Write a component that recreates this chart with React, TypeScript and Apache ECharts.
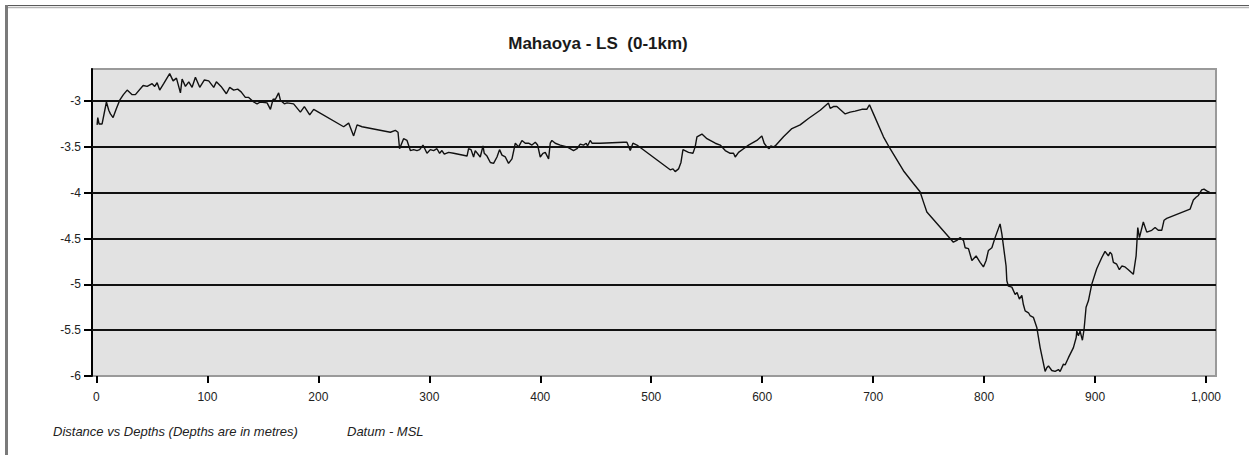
import React, { useEffect, useRef } from "react";
import * as echarts from "echarts";

// Longitudinal section profile: chainage (m) vs bed level (m, MSL)
const distances = [
  0.6, 1.2, 2.4, 5.1, 9.0, 11.1, 12.6, 15.0, 18.0, 21.0, 24.3, 27.7, 32.2, 35.1, 42.1, 45.7, 50.2, 52.5, 54.7, 57.0,
  60.6, 66.0, 69.1, 72.1, 75.7, 77.2, 80.2, 83.2, 86.2, 89.2, 93.1, 97.3, 101.2, 105.7, 108.1, 112.3, 117.1, 120.1, 123.7, 127.3,
  130.4, 134.2, 137.2, 141.7, 144.8, 147.7, 153.8, 156.8, 159.2, 161.3, 164.2, 165.8, 169.4, 171.8, 177.7, 183.8, 187.4, 192.2, 195.8, 222.8,
  227.3, 231.8, 234.9, 239.4, 264.9, 269.4, 271.8, 273.2, 276.8, 279.9, 282.9, 285.9, 288.9, 291.3, 294.3, 297.9, 300.9, 303.9, 306.9, 309.3,
  311.4, 313.5, 317.4, 321.9, 334.0, 335.4, 337.6, 339.9, 341.4, 345.9, 348.4, 349.5, 352.0, 355.0, 357.9, 361.0, 363.3, 365.5, 368.5, 371.4,
  374.5, 377.5, 380.5, 383.5, 386.5, 389.5, 392.5, 395.5, 397.6, 400.0, 402.4, 404.5, 407.5, 409.0, 410.5, 413.5, 418.0, 424.1, 430.0, 433.1,
  436.0, 439.0, 441.4, 442.6, 445.0, 446.6, 454.1, 475.1, 478.1, 481.1, 483.5, 487.1, 517.1, 519.6, 521.6, 524.6, 526.8, 528.6, 533.6, 537.6,
  539.6, 541.2, 545.7, 550.2, 557.7, 562.2, 566.7, 571.2, 574.2, 575.7, 578.7, 583.2, 587.7, 595.2, 599.7, 601.8, 604.2, 606.3, 607.8, 610.2,
  611.7, 619.2, 626.8, 634.2, 641.7, 652.3, 659.7, 661.3, 664.2, 667.3, 674.8, 679.3, 683.8, 689.8, 694.3, 696.7, 700.3, 709.3, 715.3, 727.3,
  736.3, 742.3, 745.3, 748.4, 772.3, 775.4, 778.4, 781.4, 782.9, 785.9, 789.0, 792.8, 796.4, 799.4, 801.8, 803.9, 807.0, 809.9, 814.4, 816.0,
  819.8, 820.5, 821.9, 825.0, 828.0, 829.7, 831.8, 834.0, 835.4, 837.0, 840.0, 841.4, 844.4, 847.5, 850.5, 855.0, 856.5, 858.0, 861.0, 864.0,
  867.0, 868.5, 871.5, 873.0, 876.0, 880.5, 883.0, 883.5, 885.0, 886.5, 888.6, 890.1, 891.9, 894.0, 897.0, 901.5, 906.0, 909.0, 912.0, 913.5,
  915.0, 916.5, 919.5, 921.9, 924.1, 927.0, 930.0, 934.5, 937.0, 938.5, 940.0, 943.5, 946.6, 951.1, 954.1, 957.0, 960.1, 962.2, 964.6, 985.6,
  988.6, 991.0, 993.1, 996.1, 998.2, 1000.6, 1003.6,
];

const depths = [
  -3.26, -3.18, -3.25, -3.25, -3.01, -3.1, -3.14, -3.18, -3.08, -2.99, -2.93, -2.88, -2.93, -2.93, -2.83, -2.84, -2.81, -2.84, -2.8, -2.88,
  -2.81, -2.7, -2.78, -2.75, -2.91, -2.76, -2.84, -2.79, -2.85, -2.74, -2.85, -2.77, -2.78, -2.85, -2.79, -2.84, -2.92, -2.85, -2.88, -2.87,
  -2.9, -2.96, -2.96, -3.01, -3.03, -3.01, -3.02, -3.09, -2.98, -2.98, -2.91, -2.99, -3.03, -3.02, -3.03, -3.12, -3.06, -3.15, -3.09, -3.28,
  -3.24, -3.38, -3.26, -3.28, -3.34, -3.32, -3.34, -3.52, -3.41, -3.43, -3.54, -3.53, -3.54, -3.53, -3.48, -3.57, -3.53, -3.54, -3.52, -3.57,
  -3.54, -3.58, -3.56, -3.57, -3.6, -3.52, -3.53, -3.61, -3.54, -3.61, -3.49, -3.57, -3.6, -3.67, -3.68, -3.61, -3.53, -3.59, -3.61, -3.68,
  -3.63, -3.46, -3.5, -3.43, -3.46, -3.46, -3.48, -3.45, -3.48, -3.61, -3.57, -3.56, -3.63, -3.46, -3.43, -3.46, -3.48, -3.5, -3.54, -3.52,
  -3.47, -3.48, -3.46, -3.49, -3.43, -3.46, -3.46, -3.45, -3.45, -3.54, -3.46, -3.48, -3.75, -3.74, -3.77, -3.74, -3.67, -3.53, -3.56, -3.57,
  -3.5, -3.39, -3.36, -3.41, -3.46, -3.48, -3.54, -3.57, -3.57, -3.61, -3.56, -3.52, -3.48, -3.43, -3.38, -3.46, -3.5, -3.52, -3.49, -3.5,
  -3.49, -3.39, -3.3, -3.26, -3.19, -3.1, -3.02, -3.08, -3.06, -3.06, -3.14, -3.12, -3.11, -3.09, -3.09, -3.04, -3.14, -3.39, -3.52, -3.76,
  -3.9, -3.99, -4.1, -4.21, -4.54, -4.52, -4.49, -4.52, -4.6, -4.61, -4.74, -4.69, -4.76, -4.81, -4.74, -4.63, -4.6, -4.49, -4.34, -4.45,
  -4.8, -4.96, -5.02, -5.03, -5.11, -5.09, -5.16, -5.12, -5.22, -5.29, -5.31, -5.34, -5.36, -5.47, -5.69, -5.95, -5.91, -5.89, -5.94, -5.95,
  -5.93, -5.95, -5.87, -5.88, -5.8, -5.69, -5.58, -5.51, -5.56, -5.51, -5.61, -5.49, -5.25, -5.18, -5.0, -4.83, -4.71, -4.64, -4.69, -4.65,
  -4.67, -4.76, -4.78, -4.84, -4.8, -4.81, -4.84, -4.89, -4.69, -4.38, -4.49, -4.32, -4.43, -4.41, -4.38, -4.41, -4.41, -4.3, -4.28, -4.18,
  -4.08, -4.05, -4.03, -3.97, -3.96, -3.98, -4.0,
];

const xTicks = [0, 100, 200, 300, 400, 500, 600, 700, 800, 900, 1000];
const yTicks = [-6, -5.5, -5, -4.5, -4, -3.5, -3];
const gridLevels = [-5.5, -5, -4.5, -4, -3.5, -3];

const chartTitle = "Mahaoya - LS  (0-1km)";
const footNote = "Distance vs Depths (Depths are in metres)";
const datumNote = "Datum - MSL";

const FONT = "Arial, 'Liberation Sans', sans-serif";

export default function App() {
  const ref = useRef<HTMLDivElement>(null);

  useEffect(() => {
    if (!ref.current) return;
    const chart = echarts.init(ref.current, undefined, { renderer: "svg" });
    const points = distances.map((d, i) => [d, depths[i]]);

    chart.setOption({
      animation: false,
      backgroundColor: "#ffffff",
      textStyle: { fontFamily: FONT },
      grid: {
        left: 92,
        top: 69,
        right: 33,
        bottom: 79,
        show: true,
        backgroundColor: "#e2e2e2",
        borderColor: "#9a9a9a",
        borderWidth: 2,
      },
      xAxis: {
        type: "value",
        min: -4,
        max: 1009,
        axisLine: {
          show: true,
          onZero: false,
          lineStyle: { color: "#000", width: 3, shadowColor: "#9a9a9a", shadowOffsetY: 2, shadowBlur: 0 },
        },
        axisTick: {
          show: true,
          customValues: xTicks,
          length: 7,
          lineStyle: { color: "#000", width: 2 },
        },
        axisLabel: {
          customValues: xTicks,
          margin: 15,
          fontSize: 12,
          color: "#222",
          fontFamily: FONT,
          formatter: (v: number) => v.toLocaleString("en-US"),
        },
        splitLine: { show: false },
      },
      yAxis: {
        type: "value",
        min: -6,
        max: -2.65,
        axisLine: { show: true, onZero: false, lineStyle: { color: "#000", width: 2 } },
        axisTick: {
          show: true,
          customValues: yTicks,
          length: 8,
          lineStyle: { color: "#000", width: 2 },
        },
        axisLabel: {
          customValues: yTicks,
          margin: 11,
          fontSize: 12,
          color: "#222",
          fontFamily: FONT,
          formatter: (v: number) => String(v),
        },
        splitLine: { show: false },
      },
      series: [
        {
          type: "line",
          data: points,
          showSymbol: false,
          symbol: "none",
          lineStyle: { color: "#111", width: 1.4 },
          z: 3,
          markLine: {
            silent: true,
            symbol: "none",
            label: { show: false },
            lineStyle: { color: "#111", width: 2, type: "solid" },
            data: gridLevels.map((v) => ({ yAxis: v })),
            z: 2,
          },
        },
      ],
      graphic: [
        { type: "line", shape: { x1: 5, y1: 5.5, x2: 1249, y2: 5.5 }, style: { stroke: "#5a5a5a", lineWidth: 1 } },
        { type: "line", shape: { x1: 5, y1: 7.5, x2: 1249, y2: 7.5 }, style: { stroke: "#b5b5b5", lineWidth: 1.5 } },
        { type: "line", shape: { x1: 6.5, y1: 5, x2: 6.5, y2: 455 }, style: { stroke: "#7a7a7a", lineWidth: 3 } },
        {
          type: "text",
          x: 598,
          y: 43,
          style: {
            text: chartTitle,
            fontSize: 17,
            fontWeight: "bold",
            fontFamily: FONT,
            fill: "#1a1a1a",
            textAlign: "center",
            textVerticalAlign: "middle",
          },
        },
        {
          type: "text",
          x: 53,
          y: 431,
          style: {
            text: footNote,
            fontSize: 13,
            fontStyle: "italic",
            fontFamily: FONT,
            fill: "#222",
            textVerticalAlign: "middle",
          },
        },
        {
          type: "text",
          x: 347,
          y: 431,
          style: {
            text: datumNote,
            fontSize: 13,
            fontStyle: "italic",
            fontFamily: FONT,
            fill: "#222",
            textVerticalAlign: "middle",
          },
        },
      ],
    });

    return () => chart.dispose();
  }, []);

  return (
    <div
      ref={ref}
      style={{ position: "absolute", left: 0, top: 0, width: 1249, height: 455 }}
    />
  );
}
